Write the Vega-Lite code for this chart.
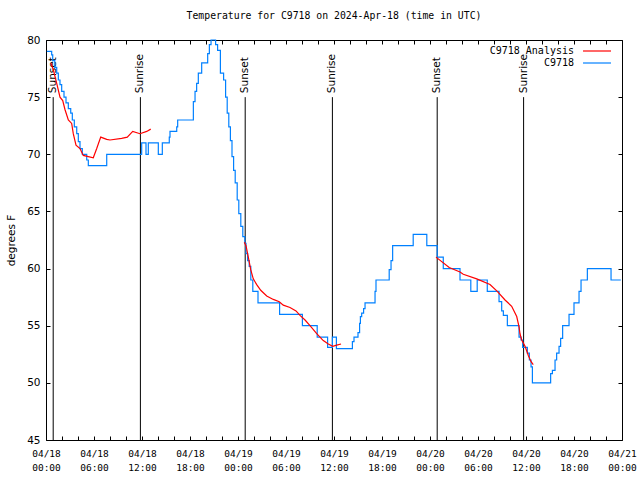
{
  "$schema": "https://vega.github.io/schema/vega-lite/v6.json",
  "width": 576,
  "height": 400,
  "autosize": {"type": "none"},
  "padding": {"left": 46, "top": 40, "right": 18, "bottom": 40},
  "background": "white",
  "title": {
    "text": "Temperature for C9718 on 2024-Apr-18 (time in UTC)",
    "font": "DejaVu Sans Mono",
    "fontSize": 9.8,
    "fontWeight": "normal",
    "color": "black",
    "anchor": "middle",
    "offset": 14
  },
  "config": {
    "view": {"stroke": "black", "strokeWidth": 1},
    "axis": {"grid": false, "domain": false, "tickWidth": 1, "tickColor": "black", "labelColor": "black", "titleColor": "black", "zindex": 1}
  },
  "datasets": {
    "sun": [
      {"h": 0.9, "event": "Sunset"},
      {"h": 11.8, "event": "Sunrise"},
      {"h": 24.9, "event": "Sunset"},
      {"h": 35.8, "event": "Sunrise"},
      {"h": 48.9, "event": "Sunset"},
      {"h": 59.7, "event": "Sunrise"}
    ],
    "blue": [
      {"h": 0.1, "t": 79.0}, {"h": 0.71, "t": 78.7}, {"h": 0.84, "t": 78.2}, {"h": 1.1, "t": 77.6},
      {"h": 1.34, "t": 77.1}, {"h": 1.54, "t": 76.5}, {"h": 1.75, "t": 76.1}, {"h": 1.96, "t": 75.5},
      {"h": 2.25, "t": 75.0}, {"h": 2.5, "t": 74.5}, {"h": 2.79, "t": 74.0}, {"h": 3.09, "t": 73.6},
      {"h": 3.29, "t": 73.0}, {"h": 3.54, "t": 72.4}, {"h": 3.84, "t": 71.8}, {"h": 4.04, "t": 71.1},
      {"h": 4.25, "t": 70.5}, {"h": 4.54, "t": 70.0}, {"h": 5.09, "t": 69.5}, {"h": 5.29, "t": 69.0},
      {"h": 7.59, "t": 70.0}, {"h": 11.96, "t": 71.0}, {"h": 12.5, "t": 70.0}, {"h": 12.79, "t": 71.0},
      {"h": 14.04, "t": 70.0}, {"h": 14.54, "t": 71.0}, {"h": 15.41, "t": 71.5}, {"h": 15.5, "t": 72.0},
      {"h": 16.34, "t": 72.4}, {"h": 16.46, "t": 73.0}, {"h": 18.42, "t": 74.6}, {"h": 18.63, "t": 75.5},
      {"h": 18.83, "t": 76.2}, {"h": 19.04, "t": 77.1}, {"h": 19.46, "t": 78.0}, {"h": 20.21, "t": 78.8},
      {"h": 20.42, "t": 79.6}, {"h": 20.63, "t": 80.0}, {"h": 21.2, "t": 79.6}, {"h": 21.45, "t": 79.1},
      {"h": 21.8, "t": 77.1}, {"h": 22.2, "t": 76.5}, {"h": 22.45, "t": 75.0}, {"h": 22.65, "t": 73.6},
      {"h": 22.85, "t": 72.4}, {"h": 23.05, "t": 71.2}, {"h": 23.25, "t": 69.8}, {"h": 23.45, "t": 68.6},
      {"h": 23.65, "t": 67.5}, {"h": 23.9, "t": 66.0}, {"h": 24.1, "t": 64.8}, {"h": 24.35, "t": 63.7},
      {"h": 24.6, "t": 62.8}, {"h": 24.85, "t": 62.2}, {"h": 25.0, "t": 61.3}, {"h": 25.2, "t": 60.7},
      {"h": 25.4, "t": 60.2}, {"h": 25.6, "t": 59.0}, {"h": 25.85, "t": 58.0}, {"h": 26.5, "t": 57.0},
      {"h": 29.2, "t": 56.0}, {"h": 32.05, "t": 55.0}, {"h": 33.9, "t": 54.0}, {"h": 35.2, "t": 53.1},
      {"h": 35.8, "t": 54.0}, {"h": 36.3, "t": 53.0}, {"h": 38.3, "t": 53.6}, {"h": 38.5, "t": 54.0},
      {"h": 39.0, "t": 54.4}, {"h": 39.2, "t": 55.2}, {"h": 39.3, "t": 55.8}, {"h": 39.46, "t": 56.1},
      {"h": 39.7, "t": 56.5}, {"h": 39.88, "t": 57.0}, {"h": 41.13, "t": 58.0}, {"h": 41.25, "t": 59.0},
      {"h": 42.9, "t": 59.9}, {"h": 43.13, "t": 60.7}, {"h": 43.33, "t": 62.0}, {"h": 45.9, "t": 63.0},
      {"h": 47.6, "t": 62.0}, {"h": 48.9, "t": 61.0}, {"h": 49.66, "t": 60.0}, {"h": 51.75, "t": 59.0},
      {"h": 53.1, "t": 58.0}, {"h": 53.9, "t": 59.0}, {"h": 55.16, "t": 58.0}, {"h": 56.63, "t": 57.1},
      {"h": 56.96, "t": 56.3}, {"h": 57.17, "t": 55.9}, {"h": 57.67, "t": 55.0}, {"h": 59.13, "t": 54.0},
      {"h": 59.38, "t": 53.75}, {"h": 59.58, "t": 53.1}, {"h": 60.17, "t": 52.6}, {"h": 60.42, "t": 52.0},
      {"h": 60.63, "t": 51.4}, {"h": 60.8, "t": 50.0}, {"h": 63.08, "t": 50.8}, {"h": 63.3, "t": 51.1},
      {"h": 63.63, "t": 52.0}, {"h": 63.83, "t": 52.6}, {"h": 64.13, "t": 53.2}, {"h": 64.33, "t": 53.9},
      {"h": 64.58, "t": 55.0}, {"h": 65.38, "t": 56.0}, {"h": 66.0, "t": 57.0}, {"h": 66.63, "t": 58.0},
      {"h": 66.88, "t": 59.0}, {"h": 67.67, "t": 60.0}, {"h": 70.63, "t": 59.0}, {"h": 71.85, "t": 59.0}
    ],
    "red": [
      {"seg": 1, "h": 0.6, "t": 78.0}, {"seg": 1, "h": 0.91, "t": 77.4}, {"seg": 1, "h": 1.34, "t": 76.2},
      {"seg": 1, "h": 1.75, "t": 75.0}, {"seg": 1, "h": 2.09, "t": 74.7}, {"seg": 1, "h": 2.38, "t": 73.9},
      {"seg": 1, "h": 2.79, "t": 73.0}, {"seg": 1, "h": 3.21, "t": 72.7}, {"seg": 1, "h": 3.41, "t": 71.8},
      {"seg": 1, "h": 3.75, "t": 70.8}, {"seg": 1, "h": 4.25, "t": 70.5}, {"seg": 1, "h": 4.66, "t": 69.9},
      {"seg": 1, "h": 5.29, "t": 69.8}, {"seg": 1, "h": 5.91, "t": 69.7}, {"seg": 1, "h": 6.34, "t": 70.5},
      {"seg": 1, "h": 6.84, "t": 71.5}, {"seg": 1, "h": 7.59, "t": 71.3}, {"seg": 1, "h": 8.0, "t": 71.25},
      {"seg": 1, "h": 9.46, "t": 71.4}, {"seg": 1, "h": 10.16, "t": 71.5}, {"seg": 1, "h": 10.84, "t": 72.0},
      {"seg": 1, "h": 11.75, "t": 71.8}, {"seg": 1, "h": 12.59, "t": 72.0}, {"seg": 1, "h": 13.09, "t": 72.2},
      {"seg": 2, "h": 24.79, "t": 62.3}, {"seg": 2, "h": 25.0, "t": 62.0}, {"seg": 2, "h": 25.29, "t": 61.0},
      {"seg": 2, "h": 25.59, "t": 59.9}, {"seg": 2, "h": 25.91, "t": 59.1}, {"seg": 2, "h": 26.34, "t": 58.6},
      {"seg": 2, "h": 26.84, "t": 58.1}, {"seg": 2, "h": 27.59, "t": 57.6}, {"seg": 2, "h": 28.41, "t": 57.3},
      {"seg": 2, "h": 29.16, "t": 57.1}, {"seg": 2, "h": 29.66, "t": 56.8}, {"seg": 2, "h": 30.5, "t": 56.6},
      {"seg": 2, "h": 31.25, "t": 56.3}, {"seg": 2, "h": 31.75, "t": 55.9}, {"seg": 2, "h": 32.38, "t": 55.5},
      {"seg": 2, "h": 33.0, "t": 55.0}, {"seg": 2, "h": 33.84, "t": 54.3}, {"seg": 2, "h": 34.66, "t": 53.7},
      {"seg": 2, "h": 35.29, "t": 53.4}, {"seg": 2, "h": 35.84, "t": 53.2}, {"seg": 2, "h": 36.34, "t": 53.3},
      {"seg": 2, "h": 36.88, "t": 53.4},
      {"seg": 3, "h": 48.75, "t": 61.0}, {"seg": 3, "h": 50.4, "t": 60.1}, {"seg": 3, "h": 51.75, "t": 59.7},
      {"seg": 3, "h": 52.16, "t": 59.5}, {"seg": 3, "h": 53.84, "t": 59.1}, {"seg": 3, "h": 55.5, "t": 58.6},
      {"seg": 3, "h": 56.41, "t": 58.0}, {"seg": 3, "h": 57.38, "t": 57.25}, {"seg": 3, "h": 58.21, "t": 56.7},
      {"seg": 3, "h": 58.84, "t": 55.8}, {"seg": 3, "h": 59.13, "t": 54.9}, {"seg": 3, "h": 59.25, "t": 54.3},
      {"seg": 3, "h": 59.46, "t": 53.75}, {"seg": 3, "h": 59.88, "t": 53.2}, {"seg": 3, "h": 60.29, "t": 52.4},
      {"seg": 3, "h": 60.63, "t": 51.85}, {"seg": 3, "h": 60.91, "t": 51.6}
    ]
  },
  "resolve": {"axis": {"x": "independent", "y": "independent"}},
  "layer": [
    {
      "data": {"name": "sun"},
      "mark": {"type": "rule", "color": "black", "strokeWidth": 1},
      "encoding": {
        "x": {"field": "h", "type": "quantitative", "scale": {"domain": [0, 72], "nice": false, "zero": false},
          "axis": {"orient": "top", "offset": -400, "title": null, "labels": false, "ticks": true, "tickSize": 4,
            "values": [0,2,4,6,8,10,12,14,16,18,20,22,24,26,28,30,32,34,36,38,40,42,44,46,48,50,52,54,56,58,60,62,64,66,68,70,72]}},
        "y": {"datum": 75, "type": "quantitative", "scale": {"domain": [45, 80], "nice": false, "zero": false},
          "axis": {"orient": "right", "offset": -576, "title": null, "labels": false, "ticks": true, "tickSize": 4, "values": [45,50,55,60,65,70,75,80]}},
        "y2": {"datum": 45}
      }
    },
    {
      "data": {"name": "sun"},
      "mark": {"type": "text", "angle": 270, "align": "left", "baseline": "middle", "dx": 4, "font": "DejaVu Sans", "fontSize": 10.5, "color": "black"},
      "encoding": {
        "x": {"field": "h", "type": "quantitative",
          "axis": {"orient": "bottom", "offset": -400, "title": null, "labels": false, "ticks": true, "tickSize": 4,
            "values": [0,2,4,6,8,10,12,14,16,18,20,22,24,26,28,30,32,34,36,38,40,42,44,46,48,50,52,54,56,58,60,62,64,66,68,70,72]}},
        "y": {"datum": 75, "type": "quantitative",
          "axis": {"orient": "left", "offset": -576, "title": null, "labels": false, "ticks": true, "tickSize": 4, "values": [45,50,55,60,65,70,75,80]}},
        "text": {"field": "event"}
      }
    },
    {
      "data": {"name": "blue"},
      "mark": {"type": "line", "interpolate": "step-after", "strokeWidth": 1.2},
      "encoding": {
        "x": {"field": "h", "type": "quantitative",
          "axis": {"orient": "bottom", "title": null, "values": [0,6,12,18,24,30,36,42,48,54,60,66,72],
            "ticks": false, "labelPadding": 8, "labelOverlap": false, "labelFlush": false,
            "labelFont": "DejaVu Sans Mono", "labelFontSize": 9.5, "labelLineHeight": 14, "labelBaseline": "top",
            "labelExpr": "['04/' + (18 + floor(datum.value / 24)), (datum.value % 24 < 10 ? '0' : '') + (datum.value % 24) + ':00']"}},
        "y": {"field": "t", "type": "quantitative",
          "axis": {"orient": "left", "title": "degrees F", "values": [45,50,55,60,65,70,75,80], "ticks": false, "labelPadding": 6,
            "labelFont": "DejaVu Sans", "labelFontSize": 10.5, "titleFont": "DejaVu Sans", "titleFontSize": 10.5, "titleFontWeight": "normal", "titlePadding": 10}},
        "color": {"datum": "C9718", "type": "nominal",
          "scale": {"domain": ["C9718 Analysis", "C9718"], "range": ["#ff0000", "#0080ff"]},
          "legend": {"orient": "none", "legendX": 544, "legendY": 4, "title": null, "padding": 0,
            "symbolType": "M-2.33,0H2.33", "symbolSize": 144, "symbolStrokeWidth": 1.2, "labelAlign": "right", "labelOffset": -30,
            "labelFont": "DejaVu Sans Mono", "labelFontSize": 10, "rowPadding": 0}}
      }
    },
    {
      "data": {"name": "red"},
      "mark": {"type": "line", "strokeWidth": 1.2},
      "encoding": {
        "x": {"field": "h", "type": "quantitative", "axis": null},
        "y": {"field": "t", "type": "quantitative", "axis": null},
        "detail": {"field": "seg", "type": "nominal"},
        "color": {"datum": "C9718 Analysis", "type": "nominal"}
      }
    }
  ]
}
